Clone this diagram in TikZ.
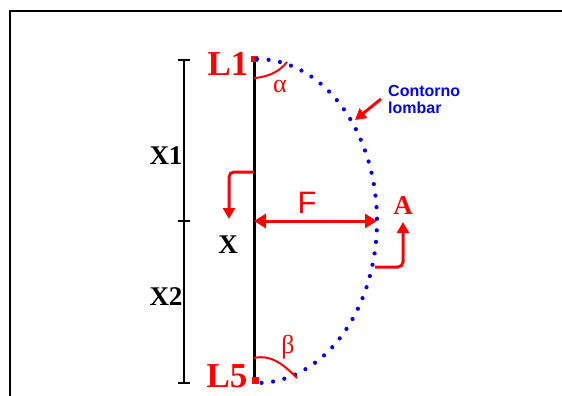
\documentclass[tikz,border=0pt]{standalone}
\usepackage{fontspec}
\setmainfont{Liberation Serif}
\setsansfont{Liberation Sans}
\usetikzlibrary{arrows.meta}

\tikzset{
  seta/.style={red,line width=3pt,rounded corners=5pt,-{Triangle[length=11pt,width=12pt]}},
  vert/.style={red,inner sep=0pt,font=\bfseries\fontsize{35}{35}\selectfont},
  cota/.style={inner sep=0pt,font=\bfseries\fontsize{27}{27}\selectfont},
  angulo/.style={red,inner sep=0pt,font=\fontsize{26}{26}\selectfont},
}

\begin{document}
\begin{tikzpicture}[x=1pt,y=-1pt]
  \useasboundingbox (0,0) rectangle (562,396);
  \draw[line width=2.5pt] (10,396) -- (10,11) -- (562,11);
  % coluna lombar
  \coordinate (topo) at (254,59);
  \coordinate (base) at (254,382);
  \coordinate (meio) at (254,221);
  \coordinate (apice) at (377,221);
  \draw[line width=3pt] (topo) -- (base);
  \fill[red] (251,56) rectangle (258,62);
  \fill[red] (252,377) rectangle (259,384);
  \draw[blue,line width=4.2pt,line cap=round,dash pattern=on 0pt off 11.6pt]
    plot[domain=-90:90,samples=80] ({257+120*cos(\x)},{221+162*sin(\x)});
  % cotas
  \draw[line width=2pt] (184,60) -- (184,383);
  \foreach \y in {60,221,383} \draw[line width=2pt] (178,\y) -- (190,\y);
  \node[cota] (X1) at (166,156) {X1};
  \node[cota] (X2) at (166,297) {X2};
  \node[cota] (X) at (228,245) {X};
  \node[vert] (L1) at (228,64) {L1};
  \node[vert] (L5) at (227,376) {L5};
  % flecha
  \draw[seta,{Triangle[length=12pt,width=14pt]}-{Triangle[length=12pt,width=14pt]}] (meio) -- (apice);
  \node[red,inner sep=0pt,font=\sffamily\fontsize{31}{31}\selectfont] (F) at (307,203) {F};
  \node[cota,red] (A) at (403,206) {A};
  \coordinate (desvio) at (254,172);
  \coordinate (desvioX) at (229,219);
  \coordinate (curva) at (375,267);
  \coordinate (desvioA) at (403,222);
  \draw[seta] (desvio) -| (desvioX);
  \draw[seta] (curva) -| (desvioA);
  % angulos
  \draw[red,line width=2pt] (254,78) .. controls (270,77) and (281,70) .. (287,62);
  \node[angulo] (alfa) at (280,86) {α};
  \draw[red,line width=2pt] (254,358) .. controls (272,354) and (285,366) .. (297,378);
  \node[angulo] (beta) at (288,347) {β};
  % contorno
  \node[blue,inner sep=0pt,align=left,anchor=west,font=\sffamily\bfseries\fontsize{16}{17}\selectfont] (contorno) at (388,99) {Contorno\\lombar};
  \coordinate (alvo) at (355,120);
  \draw[seta] (381,99) -- (alvo);
\end{tikzpicture}
\end{document}
